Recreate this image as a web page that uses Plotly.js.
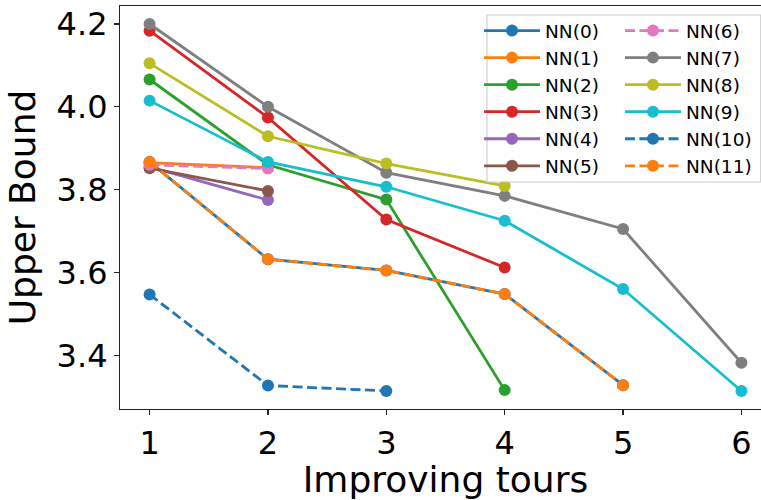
<!DOCTYPE html>
<html>
<head>
<meta charset="utf-8">
<script src="https://cdn.plot.ly/plotly-3.0.1.min.js"></script>
<style>
html,body{margin:0;padding:0;overflow:hidden;background:#fff;}
#chart{width:771px;height:500px;}
</style>
</head>
<body>
<div id="chart"></div>
<script>
// x positions (improving tours)
const tours = [1, 2, 3, 4, 5, 6];

// series values (Upper Bound)
const NN0  = [3.867, 3.632, 3.605, 3.548, 3.328];
const NN1  = [3.865, 3.853];
const NN2  = [4.066, 3.860, 3.776, 3.316];
const NN3  = [4.184, 3.974, 3.728, 3.612];
const NN4  = [3.855, 3.775];
const NN5  = [3.852, 3.797];
const NN6  = [3.860, 3.851];
const NN7  = [4.200, 4.000, 3.841, 3.785, 3.705, 3.382];
const NN8  = [4.105, 3.929, 3.863, 3.809];
const NN9  = [4.015, 3.867, 3.807, 3.725, 3.560, 3.314];
const NN10 = [3.547, 3.327, 3.314];
const NN11 = [3.867, 3.632, 3.605, 3.548, 3.328];

const seriesNames = ["NN(0)","NN(1)","NN(2)","NN(3)","NN(4)","NN(5)","NN(6)","NN(7)","NN(8)","NN(9)","NN(10)","NN(11)"];
const seriesValues = [NN0, NN1, NN2, NN3, NN4, NN5, NN6, NN7, NN8, NN9, NN10, NN11];
const colors = ["#1f77b4","#ff7f0e","#2ca02c","#d62728","#9467bd","#8c564b","#e377c2","#7f7f7f","#bcbd22","#17becf","#1f77b4","#ff7f0e"];
const dashed = [false,false,false,false,false,false,true,false,false,false,true,true];

const traces = seriesValues.map((vals, i) => ({
  type: 'scatter',
  mode: 'lines+markers',
  name: seriesNames[i],
  x: tours.slice(0, vals.length),
  y: vals,
  line: {color: colors[i], width: 2.8, dash: dashed[i] ? '10px,4.5px' : 'solid'},
  marker: {color: colors[i], size: 12},
  legend: i < 6 ? 'legend' : 'legend2',
  hoverinfo: 'x+y+name'
}));

const fontFam = 'DejaVu Sans, sans-serif';
const legendCommon = {
  bgcolor: 'rgba(0,0,0,0)',
  borderwidth: 0,
  font: {family: fontFam, size: 18.5, color: '#000'},
  xanchor: 'left', yanchor: 'top',
  itemwidth: 56,
  tracegroupgap: 0
};

const layout = {
  width: 771, height: 500,
  margin: {l: 120, r: 0, t: 6, b: 91, autoexpand: false},
  paper_bgcolor: '#fff', plot_bgcolor: '#fff',
  font: {family: fontFam, color: '#000'},
  showlegend: true,
  xaxis: {
    range: [0.75, 6.25], tickmode: 'linear', tick0: 1, dtick: 1,
    showgrid: false, zeroline: false,
    showline: true, mirror: true, linecolor: '#222', linewidth: 1.1,
    ticks: 'outside', ticklen: 5, tickwidth: 1.1, tickcolor: '#222',
    tickfont: {family: fontFam, size: 32, color: '#000'},
    title: {text: 'Improving tours', font: {family: fontFam, size: 36, color: '#000'}, standoff: 8}
  },
  yaxis: {
    range: [3.2704, 4.2435], tickmode: 'linear', tick0: 3.4, dtick: 0.2, tickformat: '.1f',
    showgrid: false, zeroline: false,
    showline: true, mirror: true, linecolor: '#222', linewidth: 1.1,
    ticks: 'outside', ticklen: 5, tickwidth: 1.1, tickcolor: '#222',
    tickfont: {family: fontFam, size: 32, color: '#000'},
    title: {text: 'Upper Bound', font: {family: fontFam, size: 36, color: '#000'}, standoff: 10}
  },
  legend: Object.assign({x: 0.5515, y: 0.985}, legendCommon),
  legend2: Object.assign({x: 0.7680, y: 0.985}, legendCommon),
  shapes: [{
    type: 'rect', xref: 'paper', yref: 'paper', layer: 'above',
    x0: 0.5637, x1: 0.9842, y0: 0.5633, y1: 0.9777,
    fillcolor: 'rgba(255,255,255,0.8)',
    line: {color: '#cccccc', width: 1.1}
  }]
};

Plotly.newPlot('chart', traces, layout, {displayModeBar: false, staticPlot: true});
</script>
</body>
</html>
